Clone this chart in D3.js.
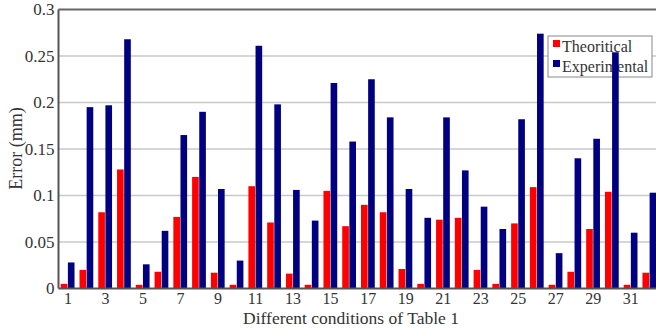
<!DOCTYPE html>
<html>
<head>
<meta charset="utf-8">
<script src="https://cdn.jsdelivr.net/npm/d3@7"></script>
<style>
  body { margin: 0; background: #fff; }
  svg { display: block; }
  text { font-family: "Liberation Serif", "Times New Roman", serif; fill: #333; }
</style>
</head>
<body>
<div class="canvas"></div>
<script>
// data
const conditions = d3.range(1, 33);
const theoretical = [0.005, 0.020, 0.082, 0.128, 0.004, 0.018, 0.077, 0.120, 0.017, 0.004,
  0.110, 0.071, 0.016, 0.004, 0.105, 0.067, 0.090, 0.082, 0.021, 0.005,
  0.074, 0.076, 0.020, 0.005, 0.070, 0.109, 0.004, 0.018, 0.064, 0.104,
  0.004, 0.017];
const experimental = [0.028, 0.195, 0.197, 0.268, 0.026, 0.062, 0.165, 0.190, 0.107, 0.030,
  0.261, 0.198, 0.106, 0.073, 0.221, 0.158, 0.225, 0.184, 0.107, 0.076,
  0.184, 0.127, 0.088, 0.064, 0.182, 0.274, 0.038, 0.140, 0.161, 0.254,
  0.060, 0.103];
const seriesNames = ['Theoritical', 'Experimental'];
const yTicks = [0, 0.05, 0.1, 0.15, 0.2, 0.25, 0.3];
const xTickLabels = conditions.filter(c => c % 2 === 1);

const colors = {Theoritical: '#ff0000', Experimental: '#000080'};
const fontFamily = '"Liberation Serif", "Times New Roman", serif';

const svg = d3.select('.canvas')
  .append('svg')
    .attr('width', 656)
    .attr('height', 333);

// plot box (right side runs off the picture)
const margin = {top: 9.5, left: 58.5, bottom: 288.5, right: 659};

const y = d3.scaleLinear()
  .domain([0, 0.3])
  .range([margin.bottom, margin.top]);

const x = d3.scaleBand()
  .domain(conditions)
  .range([margin.left, margin.right])
  .paddingInner(0.24)
  .paddingOuter(0.12);

const xInner = d3.scaleBand()
  .domain(seriesNames)
  .range([0, x.bandwidth()]);

// grid lines
svg.append('g')
  .selectAll('line')
  .data(yTicks.slice(1, -1))
  .enter()
  .append('line')
    .attr('x1', margin.left)
    .attr('x2', 656)
    .attr('y1', d => y(d))
    .attr('y2', d => y(d))
    .attr('stroke', '#c8c8c8')
    .attr('stroke-width', 1.5);

// legend sits under the bars
const legend = svg.append('g').attr('transform', 'translate(548, 36)');
legend.append('rect')
  .attr('width', 104)
  .attr('height', 41)
  .attr('fill', '#fff')
  .attr('stroke', '#888')
  .attr('stroke-width', 1);
seriesNames.forEach((name, i) => {
  legend.append('rect')
    .attr('x', 5)
    .attr('y', 4 + i * 20)
    .attr('width', 7)
    .attr('height', 7)
    .attr('fill', colors[name]);
  legend.append('text')
    .attr('x', 14)
    .attr('y', 16 + i * 20)
    .attr('font-size', 16)
    .attr('font-family', fontFamily)
    .text(name);
});

// bars
const rows = conditions.map((c, i) => ({cond: c, Theoritical: theoretical[i], Experimental: experimental[i]}));

const groups = svg.append('g')
  .selectAll('g')
  .data(rows)
  .enter()
  .append('g')
    .attr('transform', d => `translate(${x(d.cond)}, 0)`);

groups.selectAll('rect')
  .data(d => seriesNames.map(name => ({name, value: d[name]})))
  .enter()
  .append('rect')
    .attr('x', d => xInner(d.name))
    .attr('y', d => y(d.value))
    .attr('width', xInner.bandwidth() - 0.5)
    .attr('height', d => y(0) - y(d.value))
    .attr('fill', d => colors[d.name]);

// frame lines
svg.append('line')
  .attr('x1', margin.left).attr('x2', 656)
  .attr('y1', margin.top).attr('y2', margin.top)
  .attr('stroke', '#666').attr('stroke-width', 2);
svg.append('line')
  .attr('x1', margin.left).attr('x2', margin.left)
  .attr('y1', margin.top).attr('y2', margin.bottom)
  .attr('stroke', '#555').attr('stroke-width', 2);
svg.append('line')
  .attr('x1', margin.left).attr('x2', 656)
  .attr('y1', margin.bottom).attr('y2', margin.bottom)
  .attr('stroke', '#555').attr('stroke-width', 2);

// axes
const yAxis = d3.axisLeft(y)
  .tickValues(yTicks)
  .tickSize(0)
  .tickPadding(4)
  .tickFormat(d => d3.format('~g')(d));

const yAxisGroup = svg.append('g')
  .attr('transform', `translate(${margin.left}, 0)`)
  .attr('font-family', fontFamily)
  .call(yAxis);
yAxisGroup.select('.domain').remove();
yAxisGroup.selectAll('text')
  .attr('font-size', 17)
  .attr('font-family', fontFamily)
  .attr('fill', '#333');

const xAxis = d3.axisBottom(x)
  .tickValues(xTickLabels)
  .tickSize(0)
  .tickPadding(4.5);

const xAxisGroup = svg.append('g')
  .attr('transform', `translate(0, ${margin.bottom})`)
  .attr('font-family', fontFamily)
  .call(xAxis);
xAxisGroup.select('.domain').remove();
xAxisGroup.selectAll('text')
  .attr('font-size', 16)
  .attr('font-family', fontFamily)
  .attr('fill', '#333');

// axis titles
svg.append('text')
  .attr('x', 351)
  .attr('y', 323.5)
  .attr('text-anchor', 'middle')
  .attr('font-size', 17.5)
  .attr('font-family', fontFamily)
  .text('Different conditions of Table 1');

svg.append('text')
  .attr('transform', 'translate(22, 148.5) rotate(-90)')
  .attr('text-anchor', 'middle')
  .attr('font-size', 18)
  .attr('font-family', fontFamily)
  .text('Error (mm)');
</script>
</body>
</html>
